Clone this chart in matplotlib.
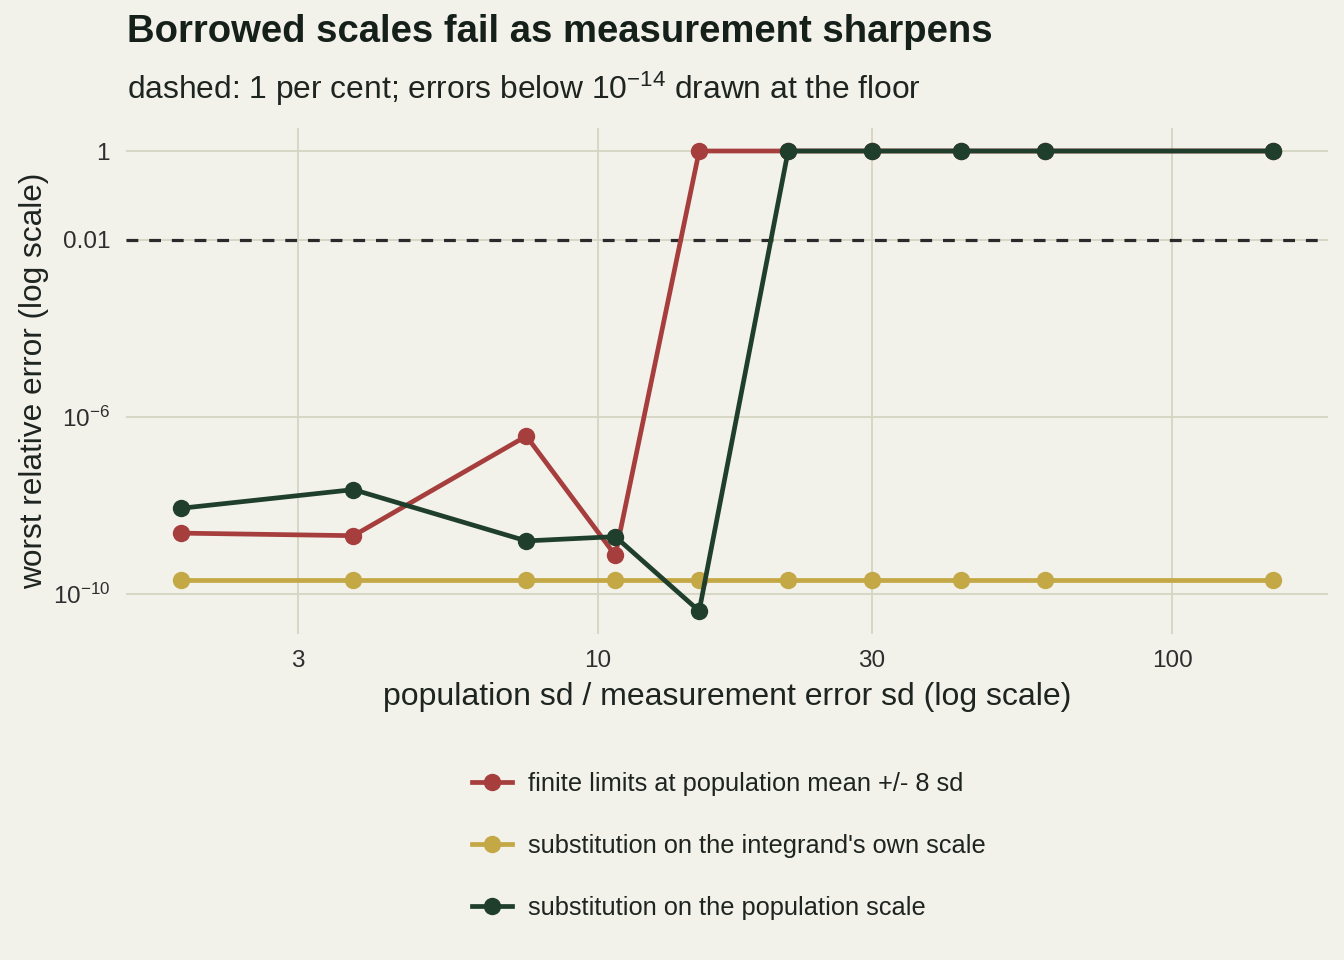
import matplotlib
matplotlib.use("Agg")
import matplotlib.pyplot as plt
import numpy as np

plt.rcParams['font.family'] = ['Liberation Sans', 'DejaVu Sans']
plt.rcParams['mathtext.fontset'] = 'custom'
plt.rcParams['mathtext.rm'] = 'Liberation Sans'
plt.rcParams['mathtext.it'] = 'Liberation Sans'

# ratio of population sd to measurement error sd
ratio = [15 / 8, 15 / 4, 15 / 2, 15 / 1.4, 15, 15 / 0.7, 30, 15 / 0.35, 60, 150]

# worst relative error per method
err_finite = [2.4e-9, 2.1e-9, 3.7e-7, 7.6e-10, 1.0, 1.0, 1.0, 1.0, 1.0, 1.0]
err_own = [2.1e-10] * 10
err_pop = [8.7e-9, 2.3e-8, 1.6e-9, 2.0e-9, 4.2e-11, 1.0, 1.0, 1.0, 1.0, 1.0]

labels = ["finite limits at population mean +/- 8 sd",
          "substitution on the integrand's own scale",
          "substitution on the population scale"]
colors = ["#A63E3E", "#C4A846", "#1F3F2C"]

xticks = [3, 10, 30, 100]
xticklabels = ["3", "10", "30", "100"]
yticks = [1, 1e-2, 1e-6, 1e-10]
yticklabels = ["1", "0.01", r"$10^{-6}$", r"$10^{-10}$"]

bg = "#F2F1EA"
ink = "#1E2420"
grid = "#D5D5C3"

fig = plt.figure(figsize=(13.44, 9.6), dpi=100, facecolor=bg)
ax = fig.add_axes([126 / 1344, 1 - 634 / 960, (1328 - 126) / 1344, (634 - 128) / 960])
ax.set_facecolor(bg)

for ys, lab, c in zip([err_finite, err_own, err_pop], labels, colors):
    ax.plot(ratio, ys, color=c, lw=3.4, marker='o', ms=11.5, label=lab, zorder=3)

# 1 per cent reference
ax.axhline(0.01, color="#2A2A2A", lw=2.3, ls=(0, (3.7, 3.4)), zorder=2)

ax.set_xscale('log')
ax.set_yscale('log')
ax.margins(0.05)
ax.set_xticks(xticks)
ax.set_xticklabels(xticklabels)
ax.set_yticks(yticks)
ax.set_yticklabels(yticklabels)
ax.minorticks_off()
ax.tick_params(length=0, labelsize=17.5, colors="#2E2E2E", pad=11.5)
ax.grid(True, color=grid, lw=1.3, zorder=0)
for s in ax.spines.values():
    s.set_visible(False)

ax.set_xlabel("population sd / measurement error sd (log scale)", fontsize=23, color=ink, labelpad=7)
ax.set_ylabel("worst relative error (log scale)", fontsize=22.8, color=ink, labelpad=3)

fig.text(127 / 1344, 1 - 32 / 960, "Borrowed scales fail as measurement sharpens",
         fontsize=27.5, fontweight='bold', color="#16201A", va='center')
fig.text(127 / 1344, 1 - 89 / 960, r"dashed: 1 per cent; errors below 10$^{-14}$ drawn at the floor",
         fontsize=22.9, color=ink, va='center')

leg = fig.legend(loc='upper center', bbox_to_anchor=(729 / 1344, 1 - 749 / 960), ncol=1,
                 frameon=False, fontsize=18.3, labelspacing=1.5, handlelength=1.57,
                 handletextpad=0.66, labelcolor=ink)

fig.savefig("out.png", dpi=100, facecolor=bg)
